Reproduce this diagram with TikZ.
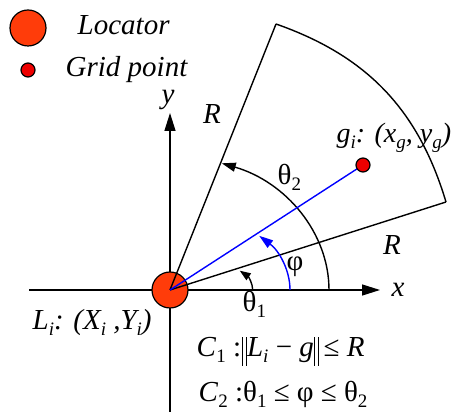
\documentclass[tikz,border=0pt]{standalone}
\usepackage{fontspec}
\setmainfont{Liberation Serif}
\newfontfamily\timesf{Liberation Serif}
\usetikzlibrary{arrows.meta}
\definecolor{locfill}{RGB}{255,60,10}
\definecolor{gridfill}{RGB}{238,0,0}
\definecolor{phiblue}{RGB}{0,0,255}
\newcommand{\lowr}[1]{\raisebox{-6pt}{\fontsize{19}{22}\selectfont #1}}
\newcommand{\normbars}{\raisebox{-9pt}{\rule{1.2pt}{29pt}\hspace{2.6pt}\rule{1.2pt}{29pt}}}
\newcommand{\thet}{\symbol{"03B8}}
\newcommand{\ph}{\symbol{"03C6}}
\newcommand{\lesym}{\symbol{"2264}}
\newcommand{\minsym}{\symbol{"2212}}
\begin{document}
\begin{tikzpicture}[x=1pt,y=1pt,
  line width=1.4pt,
  txt/.style={inner sep=0pt,font=\timesf\fontsize{29}{33}\selectfont},
  loc/.style={circle,draw=black,fill=locfill,minimum size=36pt,inner sep=0pt,line width=1.2pt},
  gp/.style={circle,draw=black,fill=gridfill,minimum size=14pt,inner sep=0pt,line width=1.2pt},
  axarrow/.style={-{Triangle[length=18pt,width=11pt]}},
  arcarrow/.style={-{Triangle[length=14pt,width=9pt]}},
  smallarrow/.style={-{Triangle[length=11pt,width=8pt]}},
]
\useasboundingbox (0,0) rectangle (456,412);
% key points
\coordinate (O) at (170,122);
\coordinate (xs) at (29,122);
\coordinate (xe) at (380,122);
\coordinate (ys) at (170,0);
\coordinate (ye) at (170,299);
\coordinate (A) at (276,388);
\coordinate (B) at (446,210);
\coordinate (t2s) at (329,122);
\coordinate (phs) at (290,122);
\coordinate (t1s) at (252.7,122);
% axes
\draw[axarrow] (xs) -- (xe);
\draw[axarrow] (ys) -- (ye);
% locator
\node[loc] (L) at (O) {};
% sector
\draw (L.center) -- (A);
\draw (L.center) -- (B);
\draw (B) to[bend right=27] (A);
% angle arcs
\draw[arcarrow] (t2s) arc[start angle=0,end angle=71,x radius=159,y radius=134];
\draw[smallarrow] (t1s) arc[start angle=0,end angle=32.5,x radius=83,y radius=36];
\draw[phiblue,arcarrow] (phs) arc[start angle=0,end angle=42,x radius=120,y radius=81];
% grid point and line
\coordinate (G) at (363,247);
\draw[phiblue] (L.center) -- (G);
\node[gp] (g) at (G) {};
% legend
\node[loc] (legL) at (28,384) {};
\node[gp] (legG) at (28,342) {};
\node[txt,anchor=base west] (tLoc) at (77,377) {\itshape Locator};
\node[txt,anchor=base west] (tGrid) at (65,335) {\itshape Grid point};
% labels
\node[txt,anchor=base] (ty) at (168,308) {\itshape y};
\node[txt,anchor=base] (tx) at (398,115) {\itshape x};
\node[txt,anchor=base] (tR1) at (212,288) {\itshape R};
\node[txt,anchor=base] (tR2) at (392,157) {\itshape R};
\node[txt,anchor=base west] (tth2) at (277,227) {\thet\lowr{2}};
\node[txt,anchor=base west] (tth1) at (242,100) {\thet\lowr{1}};
\node[txt] (tphi) at (295,145) {\ph};
\node[txt,anchor=base west,font=\timesf\fontsize{28}{32}\selectfont] (tg) at (336,269) {\itshape g\lowr{i}: (x\lowr{g}, y\lowr{g})};
\node[txt,anchor=base west] (tL) at (32,82) {\itshape L\lowr{i}: (X\lowr{i} ,Y\lowr{i})};
\node[txt,anchor=base west] (c1) at (196,55) {\textit{C}\lowr{1} :\hspace{1pt}\normbars\textit{L}\lowr{\itshape i} \minsym{} \textit{g}\normbars\,\lesym{} \textit{R}};
\node[txt,anchor=base west] (c2) at (198,10) {\textit{C}\lowr{2} :\thet\lowr{1} \lesym{} \ph{} \lesym{} \thet\lowr{2}};
\end{tikzpicture}
\end{document}
